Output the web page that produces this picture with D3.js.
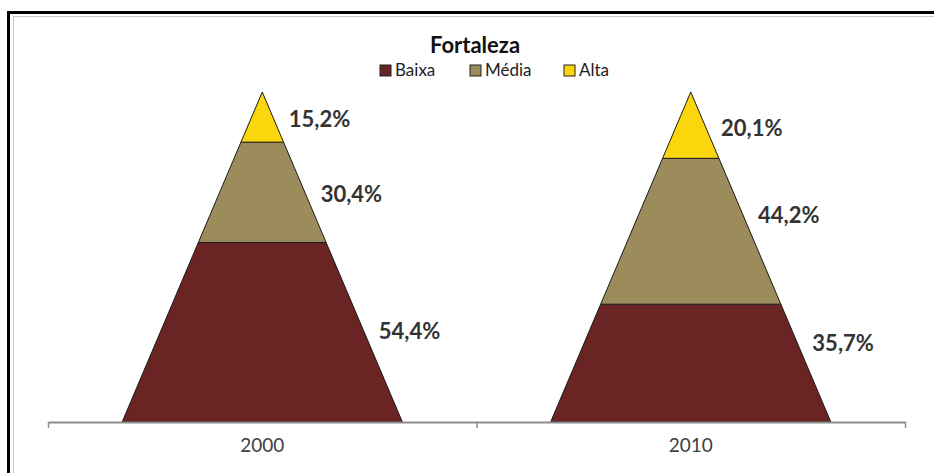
<!DOCTYPE html>
<html>
<head>
<meta charset="utf-8">
<script src="https://cdn.jsdelivr.net/npm/d3@7"></script>
<style>
  body { margin: 0; background: #fff; }
  svg { display: block; font-family: Lato, 'Open Sans', sans-serif; }
</style>
</head>
<body>
<div id="pyramid-chart"></div>
<script>
// data
const chartTitle = 'Fortaleza'
const years = ['2000', '2010']
const levels = ['Baixa', 'Média', 'Alta']
const baixa = [54.4, 35.7]
const media = [30.4, 44.2]
const alta = [15.2, 20.1]
const colors = ['#6a2424', '#9c8c5c', '#fbd60d']

// label nudges (pixels): one row per year, in the order of levels
const labelNudge = [[-1, 2, 2], [-20, -16, 3]]

const width = 934
const height = 473
const plot = { left: 48, right: 905, top: 92, bottom: 422 }

const rows = years.map((year, i) => ({
  year,
  Baixa: baixa[i],
  'Média': media[i],
  Alta: alta[i]
}))

const svg = d3.select('#pyramid-chart')
  .append('svg')
  .attr('width', width)
  .attr('height', height)

// frame
svg.append('rect')
  .attr('x', 8.5).attr('y', 12.5)
  .attr('width', width + 20).attr('height', height + 20)
  .attr('fill', '#fff')
  .attr('stroke', '#000')
  .attr('stroke-width', 3)
svg.append('rect')
  .attr('x', 13.5).attr('y', 16.5)
  .attr('width', width + 20).attr('height', height + 20)
  .attr('fill', 'none')
  .attr('stroke', '#c8c8c8')
  .attr('stroke-width', 1)

const xScale = d3.scaleBand()
  .domain(years)
  .range([plot.left, plot.right])

const yScale = d3.scaleLinear()
  .domain([0, 100])
  .range([plot.bottom, plot.top])

const baseRatio = 0.654
const halfWidth = v => xScale.bandwidth() * baseRatio / 2 * (1 - v / 100)

const stacked = d3.stack().keys(levels)(rows)

const g = svg.append('g')

stacked.forEach((layer, li) => {
  g.selectAll('.seg-' + li)
    .data(layer)
    .join('path')
    .attr('class', 'seg-' + li)
    .attr('fill', colors[li])
    .attr('stroke', '#1a1a1a')
    .attr('stroke-width', 1)
    .attr('stroke-linejoin', 'round')
    .attr('d', d => {
      const cx = xScale(d.data.year) + xScale.bandwidth() / 2
      const v0 = d[0]
      const v1 = d[1]
      return 'M' + (cx - halfWidth(v0)) + ',' + yScale(v0) +
        'L' + (cx + halfWidth(v0)) + ',' + yScale(v0) +
        'L' + (cx + halfWidth(v1)) + ',' + yScale(v1) +
        'L' + (cx - halfWidth(v1)) + ',' + yScale(v1) + 'Z'
    })

  const labelY = (d, i) => yScale((d[0] + d[1]) / 2) + labelNudge[i][li]

  g.selectAll('.lab-' + li)
    .data(layer)
    .join('text')
    .attr('class', 'lab-' + li)
    .attr('x', (d, i) => {
      const cx = xScale(d.data.year) + xScale.bandwidth() / 2
      return cx + halfWidth(yScale.invert(labelY(d, i))) + 15
    })
    .attr('y', labelY)
    .attr('dy', '0.36em')
    .attr('font-size', 22)
    .attr('font-weight', 'bold')
    .attr('fill', '#333')
    .text(d => d3.format('.1f')(d[1] - d[0]).replace('.', ',') + '%')
})

// axis with labels at the category centres
const axis = svg.append('g')
  .attr('transform', 'translate(0,' + plot.bottom + ')')
  .call(d3.axisBottom(xScale).tickSize(0).tickSizeOuter(0).tickPadding(17))
axis.select('.domain')
  .attr('stroke', '#8c8c8c')
  .attr('stroke-width', 2)
axis.selectAll('text')
  .attr('font-family', 'Lato, sans-serif')
  .attr('font-size', 19)
  .attr('fill', '#404040')

// tick marks between categories
const edgeScale = d3.scaleLinear()
  .domain([0, years.length])
  .range([plot.left, plot.right])
const edges = svg.append('g')
  .attr('transform', 'translate(0,' + plot.bottom + ')')
  .call(d3.axisBottom(edgeScale).tickValues(d3.range(years.length + 1))
    .tickFormat('').tickSize(6).tickSizeOuter(0))
edges.select('.domain').remove()
edges.selectAll('line')
  .attr('stroke', '#8c8c8c')
  .attr('stroke-width', 1.5)

// title and legend
svg.append('text')
  .attr('x', 475)
  .attr('y', 53)
  .attr('text-anchor', 'middle')
  .attr('font-size', 22)
  .attr('font-weight', 'bold')
  .attr('fill', '#111')
  .text(chartTitle)

const legendX = [380, 470, 564]
const legend = svg.append('g')
  .selectAll('g')
  .data(levels)
  .join('g')
  .attr('transform', (d, i) => 'translate(' + legendX[i] + ',65)')
legend.append('rect')
  .attr('width', 11).attr('height', 11)
  .attr('fill', (d, i) => colors[i])
  .attr('stroke', '#222')
  .attr('stroke-width', 1)
legend.append('text')
  .attr('x', 15)
  .attr('y', 11)
  .attr('font-size', 17)
  .attr('fill', '#222')
  .text(d => d)
</script>
</body>
</html>
